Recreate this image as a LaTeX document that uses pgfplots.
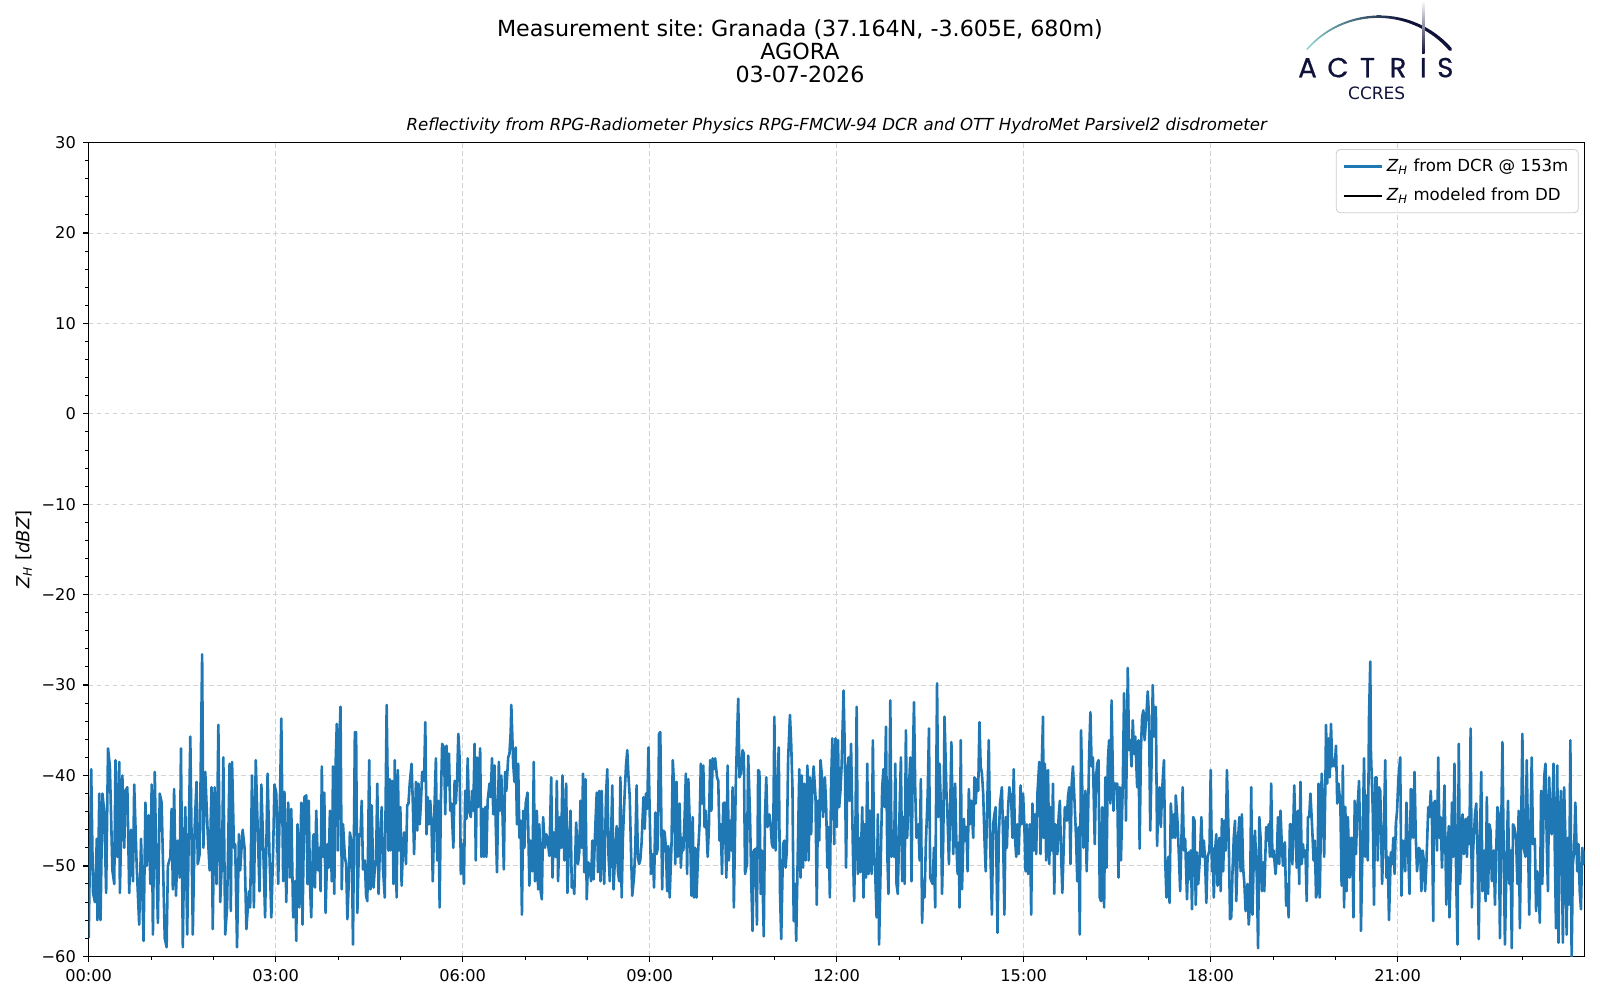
\documentclass[border=0pt]{standalone}
\usepackage{fontspec}
\setmainfont{DejaVu Sans}
\newfontfamily\logofont[FakeBold=0.5]{Poppins}
\usepackage{pgfplots}
\pgfplotsset{compat=1.18}
\frenchspacing
\definecolor{tabblue}{HTML}{1F77B4}
\definecolor{gridgray}{HTML}{D3D3D3}
\definecolor{logoteal}{HTML}{8AD3CD}
\definecolor{logonavy}{HTML}{10123A}
\begin{document}
\begin{tikzpicture}
\useasboundingbox (-44.35pt,-21.85pt) rectangle (755.65pt,478.15pt);
\begin{axis}[
  at={(0pt,0pt)}, anchor=south west,
  scale only axis, width=748pt, height=406.85pt,
  xmin=0, xmax=24, ymin=-60, ymax=30,
  xtick={0,3,6,9,12,15,18,21},
  xticklabels={00:00,03:00,06:00,09:00,12:00,15:00,18:00,21:00},
  minor xtick={1,2,4,5,7,8,10,11,13,14,16,17,19,20,22,23},
  ytick={-60,-50,-40,-30,-20,-10,0,10,20,30},
  yticklabels={−60,−50,−40,−30,−20,−10,0,10,20,30},
  minor y tick num=4,
  tick align=outside, tick pos=left,
  major tick length=2.9pt, minor tick length=1.7pt,
  major tick style={black, line width=0.66pt},
  minor tick style={black, line width=0.5pt},
  axis line style={line width=0.66pt},
  xmajorgrids, ymajorgrids,
  major grid style={gridgray, line width=0.45pt, dash pattern=on 2.4pt off 1.6pt},
  tick label style={font=\fontsize{8.1}{9.7}\selectfont},
  legend style={at={(0.996,0.992)}, anchor=north east, draw=black!20, rounded corners=2pt,
    fill=white, fill opacity=0.8, text opacity=1, font=\fontsize{8.3}{10}\selectfont,
    inner xsep=3pt, inner ysep=2.5pt, row sep=3pt},
  legend cell align=left,
  legend image code/.code={\draw[#1, line width=1.3pt, draw opacity=1] (0pt,0pt) -- (19pt,0pt);},
]
\addplot[color=tabblue, line width=1.3pt, line join=round] coordinates {
(0,-58) (0.04,-39.3) (0.07,-53) (0.10,-54) (0.13,-47) (0.14,-56) (0.17,-42) (0.19,-56) (0.22,-42) (0.25,-44) (0.28,-53) (0.31,-37) (0.34,-39) (0.38,-50.5) (0.41,-52) (0.43,-38.3) (0.46,-49) (0.49,-38.5) (0.50,-53) (0.54,-40) (0.57,-48) (0.59,-41.7) (0.62,-41.3) (0.65,-53) (0.68,-46) (0.71,-51.7) (0.73,-41) (0.77,-50) (0.81,-56.5) (0.84,-47) (0.88,-58.3) (0.91,-43) (0.93,-50) (0.96,-44.4) (0.99,-52) (1.01,-41) (1.03,-57.6) (1.06,-39.6) (1.08,-48) (1.11,-56.3) (1.14,-42) (1.17,-43) (1.22,-58) (1.25,-59) (1.27,-50) (1.31,-49) (1.33,-43.7) (1.35,-52.6) (1.37,-41.5) (1.40,-53.3) (1.43,-47.2) (1.46,-51.3) (1.48,-37) (1.51,-59) (1.53,-48.7) (1.55,-43.5) (1.58,-57.6) (1.60,-49) (1.63,-35.7) (1.67,-57.6) (1.70,-45.7) (1.73,-40.7) (1.75,-49.8) (1.78,-48.7) (1.82,-26.6) (1.84,-48) (1.87,-39.6) (1.91,-46.5) (1.94,-50.5) (1.97,-41.3) (1.99,-57) (2.02,-41.3) (2.05,-52) (2.08,-34.4) (2.11,-54) (2.14,-49) (2.16,-38) (2.19,-57.6) (2.22,-54.6) (2.26,-38.7) (2.28,-55) (2.30,-38.5) (2.33,-48) (2.35,-47.6) (2.38,-59) (2.41,-46.5) (2.43,-50.5) (2.47,-46) (2.50,-48) (2.53,-57) (2.57,-52.8) (2.59,-54.6) (2.62,-40) (2.65,-54.6) (2.68,-38.3) (2.72,-48) (2.74,-52.8) (2.77,-41) (2.80,-48) (2.83,-55.7) (2.87,-39.8) (2.90,-48.7) (2.93,-55.7) (2.96,-48) (2.98,-41) (3.01,-42) (3.04,-52) (3.07,-42) (3.09,-33.7) (3.12,-51.7) (3.14,-41.8) (3.17,-54) (3.20,-43) (3.23,-51.3) (3.25,-43.7) (3.28,-55.7) (3.31,-51.7) (3.33,-58.3) (3.35,-45.4) (3.38,-54.6) (3.41,-43) (3.43,-56.5) (3.46,-42.4)
(3.49,-42.2) (3.51,-52) (3.53,-42.8) (3.55,-52) (3.57,-55.7) (3.60,-46.9) (3.61,-46.5) (3.63,-52.4) (3.65,-43.9) (3.68,-50.5) (3.70,-48) (3.72,-52.8) (3.74,-39) (3.76,-49) (3.78,-41.9) (3.80,-55.2) (3.83,-47.6) (3.85,-50.2) (3.87,-43.9) (3.90,-51.7) (3.92,-39) (3.94,-53.1) (3.96,-39) (3.98,-34.3) (4.00,-48.3) (4.02,-36.5) (4.04,-32.4) (4.06,-52.6) (4.08,-45.4) (4.11,-49) (4.13,-49.8) (4.15,-55.9) (4.17,-52.2) (4.19,-46.3) (4.22,-47.6) (4.24,-58.7) (4.27,-35.2) (4.29,-35.2) (4.31,-55.2) (4.34,-46.5) (4.36,-46.7) (4.38,-42.8) (4.40,-50.4) (4.43,-49.4) (4.45,-53.3) (4.47,-53.9) (4.50,-38.3) (4.52,-52.6) (4.54,-43.3) (4.57,-52.4) (4.59,-50.2) (4.61,-49.4) (4.63,-40.9) (4.65,-53.1) (4.67,-48.3) (4.70,-43.5) (4.72,-50.2) (4.75,-53.5) (4.76,-45.4) (4.78,-32.2) (4.81,-48.3) (4.83,-40.4) (4.84,-48.3) (4.87,-40.6) (4.89,-52) (4.91,-38.3) (4.94,-53.5) (4.96,-39.4) (4.98,-48.3) (5.00,-43.5) (5.02,-52.2) (5.04,-48.3) (5.06,-46.3) (5.09,-49.8) (5.11,-43.3) (5.13,-43.1) (5.15,-40.9) (5.18,-38.7) (5.20,-43.1) (5.22,-48.7) (5.25,-40.7) (5.27,-46.1) (5.29,-40.9) (5.31,-45.4) (5.33,-43) (5.35,-39.6) (5.38,-40.6) (5.40,-34.1) (5.42,-46.5) (5.44,-42.4) (5.46,-45.4) (5.48,-42.8) (5.50,-45.4) (5.52,-51.7) (5.55,-42.8) (5.57,-38.1) (5.59,-49.4) (5.61,-42.8) (5.63,-54.6) (5.65,-42.8) (5.67,-36.5) (5.70,-36.9) (5.72,-44.3) (5.74,-36.7) (5.76,-41.1) (5.78,-37.6) (5.80,-43.9) (5.82,-43.1) (5.85,-48) (5.87,-40.6) (5.89,-43.1) (5.91,-40.4) (5.93,-35.4) (5.95,-38) (5.97,-50.9) (6.00,-47.6) (6.02,-52) (6.04,-41.7) (6.06,-44.8) (6.08,-38.1) (6.10,-43.9) (6.13,-44.6) (6.15,-41.7) (6.17,-43.9) (6.19,-36.5) (6.21,-49.4) (6.23,-38) (6.25,-43.5) (6.28,-37) (6.30,-49) (6.32,-43.7) (6.34,-49) (6.36,-43.5) (6.38,-49) (6.40,-42.8) (6.43,-40.9) (6.45,-42.4) (6.47,-38.1) (6.49,-44.3) (6.51,-38.9) (6.53,-45.4) (6.55,-50.7) (6.58,-38.5) (6.60,-43.9) (6.62,-40) (6.64,-44.6) (6.66,-50.4) (6.68,-39.6) (6.70,-41.7) (6.73,-38) (6.75,-37.6) (6.77,-35.2) (6.78,-32.2) (6.81,-38.7) (6.83,-40.7) (6.85,-36.9) (6.87,-45.4) (6.89,-38.7) (6.91,-46.9)
(6.92,-46.9) (6.93,-45) (6.95,-55.4) (6.97,-43.9) (6.99,-48) (7.01,-43.1) (7.04,-41.9) (7.07,-52.2) (7.09,-47.2) (7.12,-50.6) (7.14,-38.5) (7.16,-51.7) (7.19,-43.9) (7.21,-52.6) (7.23,-45.4) (7.25,-52.8) (7.27,-53.7) (7.29,-44.6) (7.32,-48) (7.34,-46.5) (7.36,-46.9) (7.39,-48.9) (7.42,-40.2) (7.44,-51.3) (7.46,-46.3) (7.49,-49) (7.51,-40.6) (7.53,-51.7) (7.56,-44.6) (7.58,-48) (7.60,-40) (7.63,-49.4) (7.66,-40.9) (7.68,-53) (7.70,-48.3) (7.73,-43.9) (7.75,-52.4) (7.77,-51.7) (7.79,-53.1) (7.82,-45.2) (7.85,-49.8) (7.87,-48.5) (7.89,-42.8) (7.91,-48) (7.93,-39.8) (7.95,-50.7) (7.97,-40.4) (7.99,-53.7) (8.01,-49.6) (8.03,-49.8) (8.06,-51.7) (8.08,-47.2) (8.10,-51.5) (8.12,-46.9) (8.15,-41.9) (8.17,-50.7) (8.19,-41.7) (8.21,-51.7) (8.23,-41.7) (8.25,-49) (8.27,-52) (8.30,-42) (8.32,-39.3) (8.34,-49) (8.36,-51.7) (8.38,-46.9) (8.40,-41.1) (8.42,-52.6) (8.45,-48) (8.47,-45.6) (8.49,-50.6) (8.51,-51.7) (8.53,-40.2) (8.55,-53.5) (8.57,-46.9) (8.60,-41.7) (8.62,-38.9) (8.64,-37.2) (8.66,-40.2) (8.68,-42.4) (8.70,-48.3) (8.72,-53.3) (8.75,-51.1) (8.77,-47.6) (8.79,-41.1) (8.81,-49) (8.83,-49.8) (8.85,-49.3) (8.87,-47.4) (8.90,-42.4) (8.92,-45.9) (8.94,-42) (8.96,-43.7) (8.98,-36.9) (9.00,-44.1) (9.02,-50.9) (9.05,-48.7) (9.07,-52.4) (9.09,-44.1) (9.11,-48.7) (9.13,-48) (9.15,-35.4) (9.17,-35.2) (9.20,-52.6) (9.22,-46.1) (9.24,-46.3) (9.26,-48) (9.28,-52.8) (9.30,-47.8) (9.32,-53.5) (9.35,-47.6) (9.37,-38.3) (9.39,-40.9) (9.41,-49.8) (9.43,-40.7) (9.45,-49) (9.48,-43.1) (9.50,-50.2) (9.52,-46.9) (9.54,-48.3) (9.56,-44.6) (9.58,-39.8) (9.60,-50.9) (9.62,-40.4) (9.65,-46.9) (9.67,-53.3) (9.69,-44.6) (9.71,-53.5) (9.73,-48) (9.75,-53.5) (9.78,-48) (9.80,-45.4) (9.82,-38.7) (9.84,-43.1) (9.86,-38.9) (9.88,-45.7) (9.90,-43.9) (9.93,-49) (9.95,-45.7) (9.97,-38.3) (9.99,-43.9) (10.01,-38.1) (10.03,-39.3) (10.05,-38.1) (10.08,-40.2) (10.10,-40.6) (10.12,-47.2) (10.14,-45.4) (10.16,-50.9) (10.18,-43.1) (10.20,-43) (10.23,-51.3) (10.25,-38.9) (10.27,-49.4) (10.29,-45) (10.31,-48.3) (10.33,-41.3) (10.35,-54.6) (10.38,-41.3)
(10.40,-36.1) (10.42,-31.5) (10.44,-40.2) (10.46,-39.8) (10.49,-37.2) (10.51,-37.6) (10.53,-50.9) (10.56,-49.8) (10.58,-37.8) (10.61,-44.6) (10.63,-52) (10.65,-57.2) (10.67,-48.3) (10.70,-48.1) (10.72,-56.5) (10.74,-39.4) (10.76,-39.6) (10.78,-53.1) (10.80,-48.3) (10.83,-57.8) (10.85,-44.4) (10.87,-40.2) (10.89,-45.7) (10.92,-44.3) (10.94,-45.4) (10.96,-47.6) (10.98,-48) (11.00,-33.5) (11.02,-48.3) (11.05,-40.9) (11.07,-36.9) (11.09,-52.8) (11.11,-58.1) (11.14,-47.6) (11.16,-47.2) (11.18,-50.2) (11.20,-48.3) (11.22,-38.3) (11.25,-33.3) (11.27,-36.5) (11.29,-41.3) (11.31,-56.1) (11.33,-52) (11.35,-58.3) (11.38,-46.9) (11.40,-39.3) (11.42,-51.3) (11.44,-40) (11.46,-50.2) (11.48,-40.9) (11.50,-49.4) (11.53,-38.9) (11.55,-49.4) (11.57,-40.2) (11.59,-46.5) (11.61,-41.3) (11.63,-39) (11.66,-42.4) (11.68,-54.3) (11.70,-42.8) (11.72,-47.2) (11.74,-38.3) (11.76,-39.8) (11.78,-44.6) (11.81,-40.2) (11.83,-43.1) (11.85,-50.2) (11.87,-45.7) (11.89,-53.5) (11.91,-40.9) (11.93,-35.9) (11.96,-47.6) (11.98,-35.9) (12.00,-45.7) (12.02,-36.1) (12.04,-43.5) (12.06,-41.7) (12.08,-38.7) (12.11,-30.6) (12.13,-37.2) (12.15,-50.2) (12.17,-40.2) (12.19,-38) (12.21,-42.8) (12.23,-36.5) (12.26,-48.3) (12.28,-53.9) (12.30,-46.1) (12.32,-32.4) (12.34,-50.9) (12.36,-46.9) (12.38,-50.7) (12.41,-43.5) (12.43,-53.5) (12.45,-45.4) (12.47,-51.3) (12.49,-38.7) (12.51,-50.9) (12.53,-43.9) (12.56,-50.9) (12.58,-36.1) (12.60,-48.3) (12.62,-51.3) (12.64,-55.7) (12.66,-44.3) (12.68,-58.7) (12.71,-48.3) (12.73,-41.3) (12.75,-39.3) (12.77,-43.5) (12.79,-34.6) (12.81,-48.3) (12.83,-53.1) (12.86,-31.7) (12.88,-49) (12.90,-46.1) (12.92,-49) (12.94,-38.7) (12.96,-52) (12.98,-53.1) (13.01,-43.5) (13.03,-38) (13.05,-51.7) (13.07,-44.6) (13.09,-52) (13.11,-35) (13.13,-46.9) (13.16,-41.3) (13.18,-38) (13.20,-51.7) (13.22,-39) (13.24,-31.9) (13.26,-41.7) (13.28,-46.9) (13.31,-45.4) (13.33,-49.4) (13.35,-40.4) (13.37,-56.3) (13.39,-51.7) (13.41,-53.5) (13.43,-47.6) (13.46,-42) (13.48,-34.8) (13.50,-51.3) (13.52,-51.7) (13.54,-52) (13.56,-48) (13.58,-54.6) (13.61,-29.8) (13.63,-44.6) (13.65,-38.7) (13.67,-43.1) (13.69,-53.1) (13.71,-46.9) (13.73,-33.5) (13.76,-41.7) (13.78,-45) (13.80,-49.8) (13.82,-43.9) (13.84,-36.3)
(13.87,-48.7) (13.90,-40.9) (13.92,-47.6) (13.94,-50.9) (13.96,-47.4) (13.97,-54.6) (13.99,-36.1) (14.01,-52.6) (14.04,-44.8) (14.06,-47.2) (14.08,-45.7) (14.10,-50.6) (14.12,-41.5) (14.14,-45.4) (14.16,-42.8) (14.19,-46.9) (14.21,-40.2) (14.23,-43.1) (14.25,-40.4) (14.27,-41.7) (14.29,-34.1) (14.31,-39) (14.33,-39.8) (14.35,-42) (14.37,-46.9) (14.39,-50.6) (14.42,-41.7) (14.44,-36.1) (14.46,-46.9) (14.49,-55.4) (14.51,-45.4) (14.53,-44.3) (14.55,-43.5) (14.58,-57.4) (14.60,-46.9) (14.62,-43.1) (14.65,-41.3) (14.67,-46.9) (14.69,-55.4) (14.71,-44.6) (14.73,-48) (14.75,-43.5) (14.77,-41.3) (14.80,-42.8) (14.82,-46.9) (14.84,-39.3) (14.86,-46.9) (14.88,-49) (14.90,-45.4) (14.92,-48.7) (14.95,-41.1) (14.97,-45.4) (14.99,-42) (15.01,-45.4) (15.03,-50.6) (15.05,-45.4) (15.07,-50.9) (15.10,-45.4) (15.12,-55.4) (15.14,-43.1) (15.16,-48.3) (15.18,-44.3) (15.20,-48.7) (15.22,-42) (15.25,-38.5) (15.27,-48.7) (15.29,-38.7) (15.31,-33.5) (15.32,-46.9) (15.34,-38.7) (15.36,-49.4) (15.39,-39.4) (15.41,-49.8) (15.43,-43.5) (15.45,-48.3) (15.47,-40.9) (15.49,-53.1) (15.51,-45.4) (15.54,-48.7) (15.56,-44.6) (15.58,-42.8) (15.60,-48.7) (15.62,-53) (15.64,-48.3) (15.66,-43.5) (15.69,-45) (15.71,-42.4) (15.73,-41.3) (15.75,-49.8) (15.77,-40.9) (15.79,-39) (15.81,-42) (15.84,-46.9) (15.86,-51.7) (15.88,-45.7) (15.90,-57.6) (15.92,-35) (15.94,-41.7) (15.96,-48) (15.99,-41.7) (16.01,-50.6) (16.03,-45.4) (16.05,-37.6) (16.07,-33) (16.09,-39) (16.11,-38) (16.14,-47.6) (16.16,-40.2) (16.18,-38.7) (16.20,-38.3) (16.22,-53.5) (16.24,-53.9) (16.26,-43.5) (16.29,-54.6) (16.31,-40.2) (16.33,-50.2) (16.35,-38.3) (16.37,-36.1) (16.39,-43.1) (16.41,-31.7) (16.44,-43.9) (16.46,-40.9) (16.48,-40.9) (16.50,-40.9) (16.52,-51.3) (16.54,-41.3) (16.56,-49.4) (16.59,-40.9) (16.61,-30.9) (16.63,-37.2) (16.64,-45) (16.67,-28.1) (16.69,-37.2) (16.71,-36.1) (16.73,-39) (16.75,-33.9) (16.77,-37.6) (16.79,-35.7) (16.82,-41.3) (16.84,-36.1) (16.86,-48.1) (16.88,-37.2) (16.90,-33.5) (16.92,-32.8) (16.94,-36.1) (16.97,-33.1) (16.99,-30.7) (17.01,-33.5) (17.03,-46.1) (17.05,-39) (17.07,-30) (17.09,-35.7) (17.12,-32.4) (17.14,-47.8) (17.16,-42.8) (17.18,-41.3) (17.20,-45.7) (17.22,-41.7) (17.25,-38.3) (17.27,-49.4) (17.29,-53.5)
(17.32,-49) (17.34,-54.1) (17.36,-43.1) (17.39,-46.9) (17.41,-44.3) (17.43,-46.9) (17.44,-42.2) (17.47,-45.4) (17.49,-49) (17.51,-52.8) (17.54,-44.3) (17.55,-41.3) (17.57,-48.3) (17.59,-47) (17.62,-53.7) (17.64,-48.5) (17.66,-51.5) (17.68,-48.3) (17.70,-54.8) (17.72,-44.6) (17.74,-45) (17.76,-54.3) (17.78,-48.5) (17.80,-52) (17.83,-48.7) (17.85,-44.6) (17.87,-49) (17.89,-47.2) (17.91,-49.4) (17.93,-54.1) (17.95,-49) (17.98,-48.3) (18.00,-39.4) (18.02,-50.6) (18.03,-48) (18.05,-53.5) (18.07,-48.3) (18.09,-46.5) (18.11,-52.2) (18.14,-46.9) (18.16,-52.8) (18.18,-44.8) (18.20,-50.6) (18.22,-45) (18.24,-48.3) (18.26,-39.4) (18.29,-47.2) (18.31,-55.9) (18.33,-55.7) (18.35,-50.6) (18.37,-46.9) (18.39,-45) (18.41,-53.9) (18.44,-46.9) (18.46,-44.6) (18.48,-50.6) (18.50,-44.3) (18.52,-50.2) (18.54,-52) (18.56,-55) (18.59,-52) (18.61,-56.5) (18.63,-54.3) (18.65,-41.3) (18.67,-55.4) (18.69,-49.4) (18.71,-46.1) (18.74,-51.3) (18.76,-59.1) (18.78,-44.6) (18.80,-46.9) (18.82,-52.8) (18.84,-49.6) (18.86,-52.8) (18.89,-45.7) (18.91,-47.2) (18.93,-45.4) (18.95,-49) (18.97,-40.9) (18.99,-49) (19.01,-48.3) (19.04,-50.9) (19.06,-49) (19.08,-44.6) (19.10,-49.8) (19.12,-43.9) (19.14,-47.6) (19.16,-50) (19.19,-47.4) (19.21,-54.4) (19.23,-52) (19.25,-55.7) (19.27,-45.4) (19.29,-45.4) (19.31,-49.8) (19.34,-41.1) (19.36,-46.1) (19.38,-50.2) (19.40,-43.9) (19.42,-52) (19.44,-40.7) (19.46,-49.8) (19.48,-47.6) (19.50,-49) (19.52,-48.3) (19.54,-53.9) (19.56,-44.6) (19.58,-44.6) (19.60,-42) (19.63,-46.1) (19.65,-49.4) (19.67,-47.2) (19.69,-53.5) (19.71,-52.8) (19.73,-40.9) (19.75,-53.5) (19.78,-39.8) (19.80,-42.4) (19.82,-49) (19.84,-40.9) (19.85,-34.4) (19.87,-40.9) (19.89,-35.9) (19.91,-40.2) (19.93,-34.3) (19.95,-39) (19.97,-38.3) (19.99,-39) (20.01,-36.7) (20.03,-43.1) (20.05,-40.9) (20.08,-43.1) (20.10,-52.2) (20.12,-38.9) (20.14,-54.6) (20.16,-43.5) (20.18,-52.8) (20.20,-44.6) (20.23,-51.3) (20.25,-46.9) (20.27,-46.9) (20.29,-55.7) (20.31,-42.8) (20.33,-48.7) (20.35,-44.3) (20.38,-40.6) (20.40,-48.3) (20.41,-57.2) (20.44,-46.1) (20.46,-38.1) (20.48,-49) (20.50,-42.2) (20.52,-49.4) (20.54,-33.5) (20.56,-27.4) (20.57,-37.2) (20.60,-43.9) (20.62,-54.3) (20.64,-40.2) (20.66,-40.2) (20.68,-49.4) (20.70,-41.3) (20.72,-41.7) (20.75,-52)
(20.78,-45.4) (20.80,-38.3) (20.82,-51.3) (20.84,-49) (20.86,-56) (20.89,-48.5) (20.91,-49.8) (20.93,-46.9) (20.95,-50.9) (20.97,-45.4) (20.99,-43.9) (21.01,-40.4) (21.04,-38) (21.06,-53.3) (21.08,-47.2) (21.10,-47.6) (21.12,-50.6) (21.14,-43) (21.16,-46.9) (21.19,-53.1) (21.21,-41.5) (21.23,-41.7) (21.25,-46.9) (21.27,-39.6) (21.29,-46.9) (21.31,-50.6) (21.34,-48) (21.36,-48.3) (21.38,-52.8) (21.40,-48.3) (21.42,-49.4) (21.44,-52.8) (21.46,-49.8) (21.49,-43.5) (21.51,-44.6) (21.53,-41.7) (21.55,-45) (21.57,-56.1) (21.58,-43.1) (21.60,-42.8) (21.63,-48.3) (21.65,-38) (21.67,-46.9) (21.69,-44.6) (21.71,-50.2) (21.73,-46.1) (21.75,-41.1) (21.78,-54.3) (21.80,-48.3) (21.82,-45.6) (21.83,-55.7) (21.86,-48.3) (21.87,-43) (21.89,-49) (21.91,-38.7) (21.94,-52) (21.96,-58.7) (21.98,-36.5) (22.00,-52) (22.02,-48.3) (22.04,-44.3) (22.06,-48.7) (22.09,-44.8) (22.11,-49) (22.13,-44.6) (22.15,-47.6) (22.17,-34.8) (22.19,-54.6) (22.21,-48.3) (22.24,-44.3) (22.26,-43.1) (22.28,-48.3) (22.30,-58.1) (22.32,-46.9) (22.34,-39.6) (22.36,-52.8) (22.39,-48.3) (22.41,-53.9) (22.43,-42.4) (22.45,-53.1) (22.47,-45.4) (22.49,-46.1) (22.51,-51.7) (22.54,-48.3) (22.56,-54.3) (22.58,-48.3) (22.60,-43.5) (22.62,-44.3) (22.64,-58) (22.66,-46.1) (22.68,-36.3) (22.70,-48.3) (22.72,-58.7) (22.75,-48.3) (22.77,-42.8) (22.79,-52) (22.81,-48.3) (22.83,-59.1) (22.85,-45.4) (22.87,-45.7) (22.90,-47.2) (22.92,-52) (22.94,-43.9) (22.96,-56.9) (22.98,-45.7) (23.00,-35.4) (23.02,-48) (23.05,-49) (23.07,-38.3) (23.09,-46.9) (23.11,-55.4) (23.13,-45.4) (23.15,-38) (23.17,-47.6) (23.20,-47) (23.22,-55) (23.24,-50.6) (23.26,-52) (23.28,-56.3) (23.30,-41.7) (23.32,-52) (23.35,-40.2) (23.37,-38.7) (23.39,-46.9) (23.41,-52.8) (23.43,-40.2) (23.45,-45.7) (23.47,-46.5) (23.50,-38.7) (23.52,-48.3) (23.54,-56.9) (23.56,-38.9) (23.58,-58.5) (23.60,-44.6) (23.62,-41.7) (23.65,-58.5) (23.67,-41.3) (23.69,-46.9) (23.71,-57.6) (23.73,-46.9) (23.75,-54.3) (23.77,-36.1) (23.79,-60.2) (23.81,-49.8) (23.83,-48.3) (23.85,-43) (23.88,-50.6) (23.90,-47.6) (23.92,-52.8) (23.94,-54.8) (23.96,-48) (23.98,-49.8) (24.00,-48.3)
};
\addlegendentry{\textit{Z}\textsubscript{\textit{H}} from DCR @ 153m}
\addlegendimage{color=black}
\addlegendentry{\textit{Z}\textsubscript{\textit{H}} modeled from DD}
\end{axis}
% titles
\node[anchor=base, inner sep=0pt, font=\fontsize{11.1}{13}\selectfont] at (355.65pt,459.9pt) {Measurement site: Granada (37.164N, -3.605E, 680m)};
\node[anchor=base, inner sep=0pt, font=\fontsize{11.1}{13}\selectfont] at (355.65pt,448.4pt) {AGORA};
\node[anchor=base, inner sep=0pt, font=\fontsize{11.1}{13}\selectfont] at (355.65pt,436.9pt) {03-07-2026};
\node[anchor=base, inner sep=0pt, font=\fontsize{8.3}{10}\selectfont\itshape] at (374pt,412.8pt) {Reflectivity from RPG-Radiometer Physics RPG-FMCW-94 DCR and OTT HydroMet Parsivel2 disdrometer};
% y label
\node[rotate=90, inner sep=0pt, font=\fontsize{9}{11}\selectfont] at (-32.5pt,203.4pt) {\textit{Z}\textsubscript{\textit{H}} [\textit{dBZ}]};
% logo
\foreach \a in {0,...,48} {
  \pgfmathsetmacro\s{139-2*\a}
  \pgfmathsetmacro\e{\s-2}
  \pgfmathsetmacro\p{min(100,\a*100/32)}
  \pgfmathsetmacro\w{0.7+\a*0.022}
  \draw[line width=\w pt, line cap=round, color=logonavy!\p!logoteal] ([shift={(\s:47.5pt)}]645pt,422.3pt) arc[start angle=\s, end angle=\e, radius=47.5pt];
}
\shade[top color=white, bottom color=logonavy] (666.7pt,451.5pt) rectangle (667.9pt,477.8pt);
\begin{scope}[every node/.style={anchor=base, inner sep=0pt, text=logonavy, font=\logofont\fontsize{13.8}{15}\selectfont}]
\node at (609.4pt,439.5pt) {A};
\node at (624.65pt,439.5pt) {C};
\node at (639.4pt,439.5pt) {T};
\node at (654.65pt,439.5pt) {R};
\node at (667.3pt,439.5pt) {I};
\node at (678.3pt,439.5pt) {S};
\end{scope}
\node[anchor=base, inner sep=0pt, text=logonavy, font=\fontsize{8.5}{10}\selectfont] at (644pt,428.5pt) {CCRES};
\end{tikzpicture}
\end{document}
